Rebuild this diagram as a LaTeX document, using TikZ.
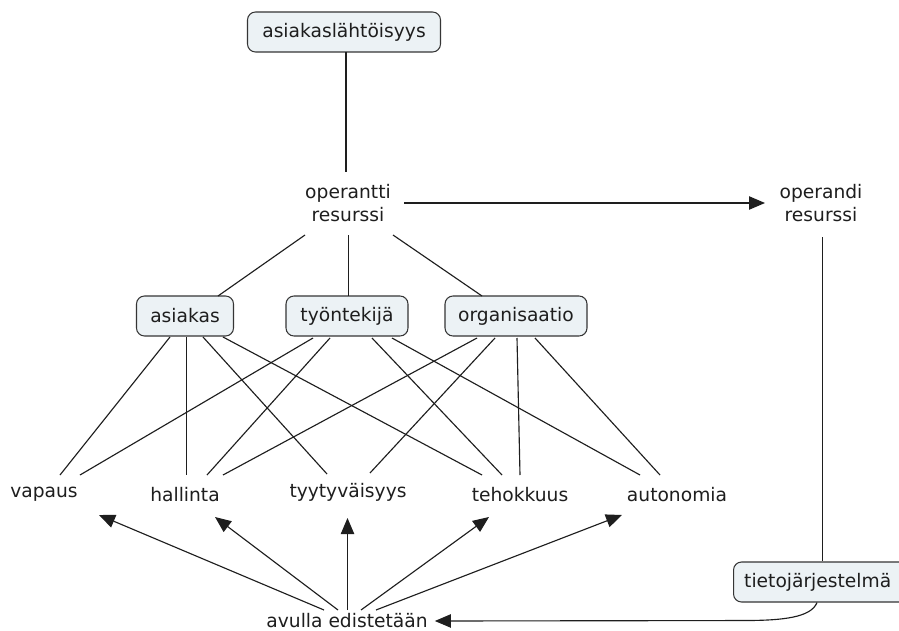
\documentclass[tikz,border=0pt]{standalone}
\usepackage{fontspec}
\setmainfont{DejaVu Sans}
\usetikzlibrary{arrows.meta,calc}
\definecolor{boxfill}{RGB}{236,242,245}
\definecolor{ink}{RGB}{30,30,30}
\tikzset{
  box/.style={draw=ink!90, line width=0.8pt, fill=boxfill, rounded corners=6pt,
    minimum height=30pt, inner xsep=0pt, inner ysep=0pt, text=ink,
    font=\fontsize{14pt}{17pt}\selectfont},
  tjbox/.style={box, inner xsep=8pt, text width=140pt, align=left},
  lbl/.style={inner sep=0pt, text=ink, align=center,
    font=\fontsize{14pt}{17pt}\selectfont},
  link/.style={draw=ink, line width=0.85pt},
  arr/.style={draw=ink, line width=0.85pt, -{Triangle[length=12pt,width=10pt]}}
}
\begin{document}
\begin{tikzpicture}[x=0.75pt,y=-0.75pt]
\useasboundingbox[fill=white] (0,0) rectangle (899,631);
% nodes
\node[box, minimum width=144.75pt] (top) at (344,32) {asiakaslähtöisyys};
\node[lbl] (opt) at (348,203) {operantti\\resurssi};
\node[lbl] (opd) at (821,203) {operandi\\resurssi};
\node[box, minimum width=72.75pt] (as) at (185,316) {asiakas};
\node[box, minimum width=91.5pt] (ty) at (347,316) {työntekijä};
\node[box, minimum width=106.5pt] (org) at (516,316) {organisaatio};
\node[lbl] (vap) at (44,494) {vapaus};
\node[lbl] (hal) at (185,495) {hallinta};
\node[lbl] (tyy) at (348,492) {tyytyväisyys};
\node[lbl] (teh) at (520,495) {tehokkuus};
\node[lbl] (aut) at (677,495) {autonomia};
\node[lbl] (av) at (347,621) {avulla edistetään};
\node[tjbox, anchor=west] (tj) at (733,582) {tietojärjestelmä};
% upper links
\draw[link] ($(top)+(2,20)$) -- ($(opt)+(-2,-31)$);
\draw[link] ($(opt)+(-43,32)$) -- ($(as)+(33,-20)$);
\draw[link] ($(opt)+(0.5,32)$) -- ($(ty)+(1.5,-20)$);
\draw[link] ($(opt)+(45,32)$) -- ($(org)+(-34,-20)$);
\draw[arr] ($(opt)+(56,0)$) -- ($(opd)+(-56,0)$);
\draw[link] ($(opd)+(1.5,34)$) -- (tj.north -| {$(opd)+(1.5,0)$});
% asiakas
\draw[link] ($(as)+(-15,21)$) -- ($(vap)+(16,-19)$);
\draw[link] ($(as)+(1.5,21)$) -- ($(hal)+(1.5,-20)$);
\draw[link] ($(as)+(18,21)$) -- ($(tyy)+(-21,-18)$);
\draw[link] ($(as)+(38,21)$) -- ($(teh)+(-38,-20)$);
% tyontekija
\draw[link] ($(ty)+(-34,22)$) -- ($(vap)+(36,-19)$);
\draw[link] ($(ty)+(-17,22)$) -- ($(hal)+(22,-20)$);
\draw[link] ($(ty)+(25,22)$) -- ($(teh)+(-18,-20)$);
\draw[link] ($(ty)+(45,22)$) -- ($(aut)+(-37,-20)$);
% organisaatio
\draw[link] ($(org)+(-39,22)$) -- ($(hal)+(38,-20)$);
\draw[link] ($(org)+(-21,22)$) -- ($(tyy)+(22,-19)$);
\draw[link] ($(org)+(1,22)$) -- ($(teh)+(0,-20)$);
\draw[link] ($(org)+(19,22)$) -- ($(aut)+(-17,-20)$);
% avulla edistetaan arrows
\draw[arr] ($(av)+(-23,-11)$) -- ($(vap)+(55,21)$);
\draw[arr] ($(av)+(-9,-11)$) -- ($(hal)+(30,22)$);
\draw[arr] ($(av)+(0.5,-11)$) -- ($(tyy)+(-0.5,26)$);
\draw[arr] ($(av)+(14,-11)$) -- ($(teh)+(-31,22)$);
\draw[arr] ($(av)+(29,-11)$) -- ($(aut)+(-55,20)$);
% tietojarjestelma to avulla
\coordinate (tjb) at ($(tj.south west)+(84,0)$);
\draw[arr] (tjb) .. controls ($(tjb)+(-6,15)$) and ($(tjb)+(-34,18)$) .. ($(tjb)+(-74,18)$) -- ($(av.east)+(7,0)$);
\end{tikzpicture}
\end{document}
